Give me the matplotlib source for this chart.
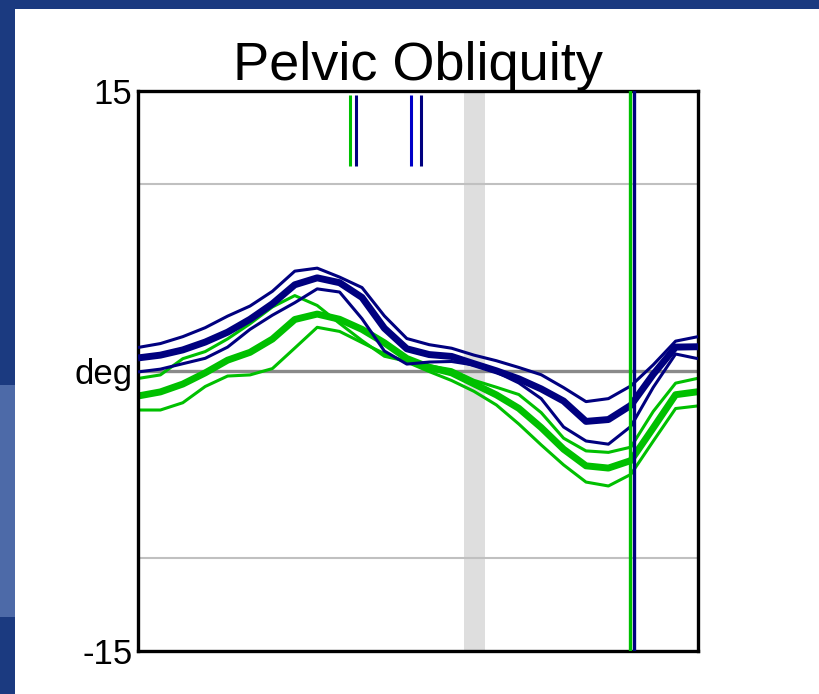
import matplotlib.pyplot as plt
import numpy as np
from matplotlib.patches import Rectangle

plt.rcParams['font.family'] = ['Liberation Sans', 'DejaVu Sans']

# % gait cycle
cycle = np.arange(0, 101, 4)

# left side (navy): thick = mean, thin = the other two traces
navy_upper = [1.26, 1.47, 1.84, 2.32, 2.94, 3.48, 4.27, 5.35, 5.51, 5.03, 4.47, 2.95, 1.74,
              1.41, 1.22, 0.85, 0.55, 0.19, -0.20, -0.89, -1.64, -1.48, -0.80, 0.33, 1.60, 1.84]
navy_mean = [0.70, 0.85, 1.13, 1.55, 2.08, 2.77, 3.60, 4.62, 4.99, 4.73, 3.94, 2.29, 1.19,
             0.88, 0.78, 0.39, 0.01, -0.42, -0.96, -1.61, -2.70, -2.60, -1.84, -0.18, 1.28, 1.30]
navy_lower = [-0.05, 0.10, 0.39, 0.68, 1.28, 2.23, 2.99, 3.66, 4.40, 4.23, 2.80, 1.07, 0.37,
              0.48, 0.51, 0.32, -0.06, -0.64, -1.48, -3.00, -3.75, -3.92, -2.97, -0.88, 0.91, 0.66]

# right side (green)
green_upper = [-0.40, -0.21, 0.66, 1.04, 1.72, 2.53, 3.43, 4.04, 3.51, 2.55, 1.63, 0.79, 0.52,
               0.28, 0.07, -0.50, -0.87, -1.26, -2.23, -3.60, -4.28, -4.36, -4.08, -2.17, -0.65, -0.39]
green_mean = [-1.34, -1.12, -0.70, -0.10, 0.58, 1.00, 1.71, 2.76, 3.05, 2.77, 2.23, 1.51, 0.67,
              0.20, -0.10, -0.69, -1.28, -2.00, -3.03, -4.19, -5.08, -5.20, -4.80, -3.05, -1.27, -1.11]
green_lower = [-2.09, -2.09, -1.70, -0.83, -0.27, -0.21, 0.13, 1.23, 2.34, 2.12, 1.52, 0.93, 0.48,
               -0.03, -0.51, -1.09, -1.82, -2.84, -3.96, -5.03, -5.95, -6.16, -5.54, -3.76, -2.01, -1.87]

# gait events (% cycle)
green_short = [37.9]
navy_short = [39.0, 50.6]
blue_short = [48.8]
green_toe_off = 87.9
navy_toe_off = 88.5
normal_band = (58.2, 62.0)

navy = '#00007f'
green = '#00c000'

fig = plt.figure(figsize=(8.2, 6.94), dpi=100)
fig.patch.set_facecolor('#1b3a80')

# slide background: white panel + lighter strip on the left
fig.patches.append(Rectangle((15 / 820, 0), 1, 1 - 9 / 694, transform=fig.transFigure,
                             facecolor='white', edgecolor='none', zorder=-5))
fig.patches.append(Rectangle((0, 1 - 617 / 694), 15 / 820, (617 - 385) / 694, transform=fig.transFigure,
                             facecolor='#4d6aa8', edgecolor='none', zorder=-5))

ax = fig.add_axes([138 / 820, 1 - 651 / 694, 560 / 820, 560 / 694])
ax.set_xlim(0, 100)
ax.set_ylim(-15, 15)

ax.axvspan(normal_band[0], normal_band[1], color='#dedede', lw=0, zorder=1)
for y in [10, -10]:
    ax.axhline(y, color='#c0c0c0', lw=1.5, zorder=1)
ax.axhline(0, color='#8a8a8a', lw=2.4, zorder=1)

line_kw = dict(solid_joinstyle='round', solid_capstyle='butt')
ax.plot(cycle, navy_upper, color=navy, lw=2.2, zorder=3, **line_kw)
ax.plot(cycle, navy_mean, color=navy, lw=5, zorder=3, **line_kw)
ax.plot(cycle, navy_lower, color=navy, lw=2.2, zorder=3, **line_kw)
ax.plot(cycle, green_upper, color=green, lw=2.2, zorder=2, **line_kw)
ax.plot(cycle, green_mean, color=green, lw=5, zorder=2, **line_kw)
ax.plot(cycle, green_lower, color=green, lw=2.2, zorder=2, **line_kw)

ax.vlines(green_short, 11, 14.8, color=green, lw=2.2, zorder=4)
ax.vlines(navy_short, 11, 14.8, color=navy, lw=2.2, zorder=4)
ax.vlines(blue_short, 11, 14.8, color='#0000c8', lw=2.2, zorder=4)
ax.axvline(green_toe_off, color=green, lw=2.4, zorder=4)
ax.axvline(navy_toe_off, color=navy, lw=2.4, zorder=4)

for s in ax.spines.values():
    s.set_linewidth(2.4)
    s.set_color('black')
ax.set_xticks([])
ax.set_yticks([15, 0, -15])
ax.set_yticklabels(['15', 'deg', '-15'], fontsize=25)
ax.tick_params(axis='y', length=0, pad=4)
ax.set_title('Pelvic Obliquity', fontsize=39, pad=8)

plt.savefig('out.png', dpi=100)
